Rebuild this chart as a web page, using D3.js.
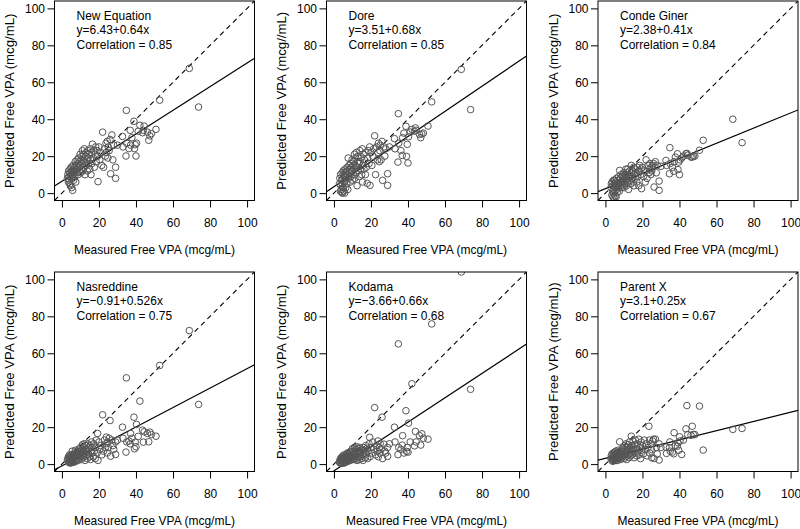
<!DOCTYPE html>
<html><head><meta charset="utf-8">
<script src="https://cdn.jsdelivr.net/npm/d3@7"></script>
<style>html,body{margin:0;padding:0;background:#fff;} svg{display:block;} text{font-family:"Liberation Sans",Arial,Helvetica,sans-serif;}</style>
</head><body><svg id="c" width="800" height="529"></svg>
<script>
// Measured free VPA (shared x for all panels)
const measured = [
3.0,3.2,3.5,3.6,3.8,4.0,4.1,4.3,4.4,4.5, 4.6,4.8,5.0,5.1,5.2,5.3,5.5,5.6,5.8,6.0,
6.1,6.2,6.4,6.5,6.8,7.0,7.2,7.3,7.5,7.7, 8.0,8.2,8.4,8.5,8.8,9.0,9.1,9.3,9.5,9.8,
10.0,10.1,10.3,10.5,10.8,11.0,11.1,11.3,11.5,11.8, 12.0,12.1,12.3,12.5,12.8,13.0,13.2,13.4,13.7,14.0,
14.1,14.3,14.6,15.0,15.3,15.5,15.7,16.0,16.2,16.5, 17.0,17.2,17.5,18.0,18.2,18.5,19.0,19.3,19.5,20.0,
20.5,21.0,21.5,22.0,22.5,23.0,23.5,23.8,24.0,24.5, 24.8,25.0,25.5,26.0,26.3,27.0,27.5,28.0,29.0,29.0,
30.0,32.7,33.0,34.6,34.8,35.0,36.2,36.9,37.1,37.8, 38.9,39.2,39.6,40.0,40.3,41.2,42.1,43.5,44.0,44.4,
46.2,46.9,47.5,48.3,50.8,52.8,68.8,73.8];

const predNewEquation = [
8,10,6,12,9,7,11,5,13,9, 4,10,14,8,11,3,12,9,1.5,15,
10,13,7,11,14,9,17,12,6,15, 11,18,13,16,10,19,14,12,17,21,
15,11,18,13,20,16,23,12,18,21, 14,24,17,10,20,22,15,18,12,23,
19,16,21,13,24,18,10,22,16,26.5, 19,23,14,21,25,17,23,20,6.2,25,
18,22,15,33,14,24,20,27,22,28, 19,25,23,29,10.5,31.5,18,26,14,8,
26,30.7,25,20.1,44.8,27,24.1,34,26,30, 38.9,24.1,26.2,20.1,27,33.5,36.7,32.7,34,36.3,
33,28.6,31,32.2,34.5,50.3,67.5,46.6];

const predDore = [
5,8,1,10,4,2,7,0.5,11,5, 0,8,12,3,9,1,10,6,0,13,
7,11,3,9,12,5,14,10,2,19, 8,15,11,13,6,16,12,9,14,18,
12,7,15,10,17,13,21,8,15,19, 11,22,14,4,17,20,12,16,9,23,
17,13,19,10,24,6,15,21,13,18, 10,22,14,5.3,19,23,16,25,4.2,22,
15,20,24,31,10,25,18,22,27,17, 23,26,18,28,6.9,25,20,24,10.5,4.2,
25,29.5,24,16.8,43,27,23,20.4,30,32.5, 36.2,19.9,26.4,16.3,30.5,33,34.5,33.5,35.3,34,
31.8,30,32,32.5,36.3,49.4,67,45.2];

const predCondeGiner = [
3,5,-1,6,1,-2,4,0,7,2, -2.5,5,7,1,4,-1.5,6,3,-2,8,
2,5,0.5,4,7,3,9,5,1,12.3, 4,8,6,10,3,9,6,4,8,11,
6,3,9,5,10,7,13,4,8,11, 6,13,9,2,10,12,7,9,5,15,
11,8,12,6,14,4,10,13,8,11, 6,14,9,4,12,15,10,13,2.4,14,
9,12,6,18,8,15,11,13,16,10, 14,12,15,16,3.3,17,11,15,6.5,1.5,
14.5,17.7,15,10.5,24.6,16,14,11.8,17,19.5, 21.3,12.7,16.8,10,18,19,20,21.3,21.5,20.5,
19.5,19.5,20,20,23.2,28.6,40,27.3];

const predNasreddine = [
2,3,1,4,1.5,3,5,1,2.5,4, 0.5,3,5,2,4,1,3,7,1.5,4,
2.5,5,1,3.5,6,2,5,7.5,1.5,4, 6,3,7,4.5,2,6,8,3,5,7,
4,9,6,2.5,8,5,10.5,3.5,7,9, 4,11,6,2,8,10,5,7,3,11,
8,5,9,4,10,2.5,7,12,6,9, 4,11,7,3,9,13,6,16.6,2,12,
8,10,5,26.7,7,13,9,11,14.6,6, 12,9,14,23.6,4.3,13,10,8,5.2,12,
13,20,14,6.5,46.7,12,12.5,11,16.6,14, 25.4,8.3,11.9,9.4,21.5,15,34.1,18.4,11.9,17.5,
16.6,12.1,17.3,16,15.1,53.4,72.3,32.3];

const predKodama = [
1,2,0.5,3,1,2.5,3.5,0.5,2,4, 1,3,4.5,1.5,3,0.5,2,5,1,3.5,
2,4,1,3,5,2,4,6,1.5,3.5, 5,2.5,4,6.5,2,5,3,7,4,2.5,
6,8.5,3.5,5,7,2.5,9,4,6,8, 3,9.5,5,2,7,8.5,4,6,2.5,9,
6.5,4,7.5,3,8,5,2,9,6,7.5, 3.5,10,5.5,8.6,3,7,11,14.5,4,9,
6,12,8,30.6,5,10,7,12.5,4,9, 6,11,8,25.4,3,10.8,7,6,4.2,9,
11,20,12,5.1,65.1,9,8,10.3,15.4,6, 28.9,6.9,9,6.5,22.2,12,43.5,9.9,17.7,12,
15.4,10.3,16.4,14,13.5,75.9,104,40.5];

const predParentX = [
3,4.5,2,5.5,3,1.5,4,6,2.5,5, 3.5,2,6.5,4,2.5,5,3,7,2,4.5,
6,3,5,2,7.5,4,5.5,3,6.5,12.1, 4.5,2.5,7,5.5,3.5,8,6,4,9,5,
3,7,10,5.5,8,4,11,6,2.5,9, 7,10.5,5,8,3.5,12,6,9,4.5,15.1,
7.5,10,5.5,12.5,8,3.5,10.5,6,13,8.5, 4.5,11,7,13.5,5,9,3,12,7.5,10,
5.5,13,8,11,4.5,9,20.5,13,6,11, 8,3.5,12.5,13.5,3,13.5,9,5.5,2.2,11,
9,9.2,5.8,8.9,12,7,6.5,5.6,17,10, 9.7,11.6,7.5,14.8,12.5,5.2,13,19.1,31.7,16,
15.6,20.5,16,16,31.4,7.6,18.8,19.3];

const methodNames = ["New Equation","Dore","Conde Giner","Nasreddine","Kodama","Parent X"];
const equations = ["y=6.43+0.64x","y=3.51+0.68x","y=2.38+0.41x","y=\u22120.91+0.526x","y=\u22123.66+0.66x","y=3.1+0.25x"];
const correlations = ["0.85","0.85","0.84","0.75","0.68","0.67"];
const intercepts = [6.43,3.51,2.38,-0.91,-3.66,3.1];
const slopes = [0.64,0.68,0.41,0.526,0.66,0.25];
const tickValues = [0,20,40,60,80,100];
const xTitle = "Measured Free VPA (mcg/mL)";
const yTitles = ["Predicted Free VPA (mcg/mL)","Predicted Free VPA (mcg//mL)","Predicted Free VPA (mcg/mL)",
                 "Predicted Free VPA (mcg/mL)","Predicted Free VPA (mcg/mL)","Predicted Free VPA (mcg/mL))"];
const predictions = [predNewEquation,predDore,predCondeGiner,predNasreddine,predKodama,predParentX];

const svg = d3.select("#c");
const W = 200, H = 199.5, VS = 1.1;
const lefts = [54.5,326.5,598], tops = [1,272];

function label(g, x, y, s, anchor, rotate) {
  const t = g.append("g").attr("transform",
    rotate ? `translate(${x},${y}) rotate(-90) scale(${VS},1)` : `translate(${x},${y}) scale(1,${VS})`);
  t.append("text").attr("x",0).attr("y",0).attr("text-anchor",anchor)
    .attr("font-size",12).attr("fill","#000").text(s);
}

predictions.forEach((pred, i) => {
  const col = i % 3, row = Math.floor(i / 3);
  const g = svg.append("g").attr("transform", `translate(${lefts[col]},${tops[row]})`);
  const x = d3.scaleLinear().domain([-4,104]).range([0,W]);
  const y = d3.scaleLinear().domain([-4,104]).range([H,0]);
  const cid = "clip" + i;
  g.append("clipPath").attr("id",cid).append("rect").attr("x",0).attr("y",0).attr("width",W).attr("height",H);
  const plot = g.append("g").attr("clip-path",`url(#${cid})`);

  // identity line
  plot.append("line").attr("x1",x(-4)).attr("y1",y(-4)).attr("x2",x(104)).attr("y2",y(104))
    .attr("stroke","#000").attr("stroke-width",1.1).attr("stroke-dasharray","5,4");
  // regression line
  plot.append("line").attr("x1",x(-4)).attr("y1",y(intercepts[i]+slopes[i]*-4))
    .attr("x2",x(104)).attr("y2",y(intercepts[i]+slopes[i]*104))
    .attr("stroke","#000").attr("stroke-width",1.2);
  // points
  plot.selectAll("circle").data(measured.map((m,k)=>[m,pred[k]])).enter().append("circle")
    .attr("cx",d=>x(d[0])).attr("cy",d=>y(d[1])).attr("r",3.3)
    .attr("fill","none").attr("stroke","#555").attr("stroke-width",1);

  // box
  g.append("rect").attr("x",0).attr("y",0).attr("width",W).attr("height",H)
    .attr("fill","none").attr("stroke","#000").attr("stroke-width",1);

  // axes
  const ax = g.append("g").attr("transform",`translate(0,${H})`)
    .call(d3.axisBottom(x).tickValues(tickValues).tickSize(7).tickFormat(d3.format("d")));
  ax.select(".domain").remove();
  ax.selectAll("line").attr("stroke","#000");
  ax.selectAll("text").attr("y",26.5/VS).attr("dy",null).attr("transform",`scale(1,${VS})`)
    .attr("font-size",12).attr("font-family",null).attr("fill","#000");
  const ay = g.append("g")
    .call(d3.axisLeft(y).tickValues(tickValues).tickSize(7).tickFormat(d3.format("d")));
  ay.select(".domain").remove();
  ay.selectAll("line").attr("stroke","#000");
  ay.selectAll("text").attr("x",-9.5).attr("y",4.6/VS).attr("dy",null).attr("transform",`scale(1,${VS})`)
    .attr("font-size",12).attr("font-family",null).attr("fill","#000");

  // titles
  label(g, W/2, H + 53.5, xTitle, "middle", false);
  label(g, -40.5, H/2, yTitles[i], "middle", true);

  // annotations
  label(g, 22, 19, methodNames[i], "start", false);
  label(g, 22, 33.3, equations[i], "start", false);
  label(g, 22, 47.6, "Correlation = " + correlations[i], "start", false);
});
</script></body></html>
